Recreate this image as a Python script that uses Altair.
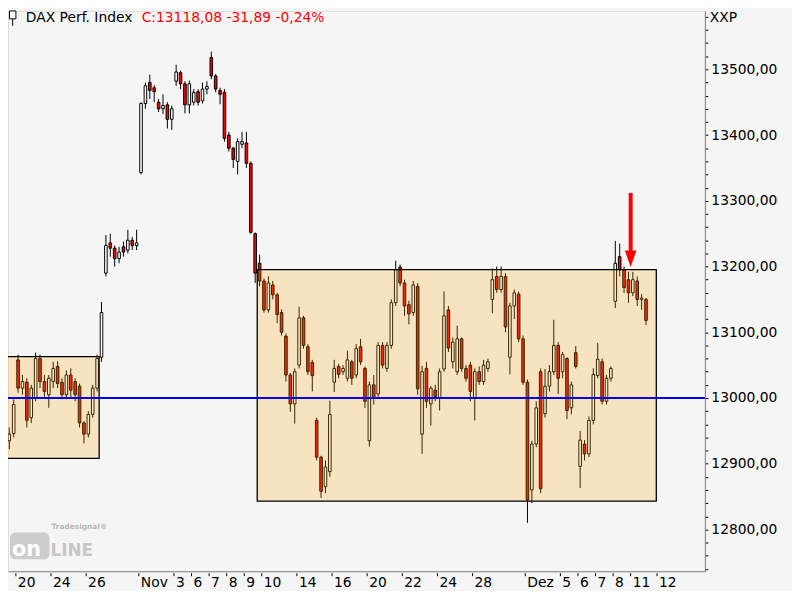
import altair as alt
import pandas as pd

# ---- candle data (one candle per slot, 4 slots per trading day) ----
OPEN = [12935, 12946, 13058, 13015, 13024, 12970, 13000, 13060, 13025, 13005,
        13025, 13048, 13024, 13005, 13035, 13025, 13018, 12962, 12945, 12975,
        13015, 13062, 13190, 13236, 13228, 13212, 13230, 13225, 13240, 13232,
        13343, 13448, 13480, 13472, 13450, 13440, 13446, 13424, 13482, 13495,
        13478, 13446, 13450, 13466, 13452, 13470, 13518, 13490, 13468, 13465,
        13400, 13380, 13360, 13386, 13388, 13357, 13250, 13205, 13178, 13134,
        13172, 13157, 13130, 13094, 13035, 12991, 13050, 13122, 13078, 13054,
        12966, 12910, 12865, 12888, 13024, 13048, 13040, 13030, 13055, 13035,
        13078, 13045, 12935, 13020, 13006, 13080, 13045, 13080, 13145, 13199,
        13175, 13142, 13130, 13170, 12945, 13045, 12991, 13012, 13000, 13044,
        13134, 13055, 13040, 13090, 13045, 13050, 13000, 13040, 13025, 13045,
        13150, 13185, 13165, 13185, 13062, 13140, 13158, 13090, 13024, 12860,
        12930, 13040, 12976, 13018, 13040, 13080, 13040, 13060, 12985, 13069,
        12896, 12930, 12915, 12966, 13034, 13055, 12995, 13030, 13147, 13215,
        13195, 13180, 13160, 13178, 13150, 13150]
HIGH = [12955, 12998, 13066, 13035, 13030, 13020, 13069, 13066, 13035, 13035,
        13055, 13056, 13030, 13042, 13045, 13030, 13022, 12965, 12980, 13020,
        13066, 13146, 13248, 13250, 13232, 13230, 13238, 13256, 13245, 13256,
        13450, 13480, 13492, 13476, 13455, 13462, 13450, 13445, 13507, 13498,
        13482, 13483, 13470, 13470, 13480, 13482, 13527, 13493, 13472, 13470,
        13405, 13382, 13395, 13405, 13405, 13360, 13252, 13218, 13182, 13185,
        13178, 13160, 13135, 13098, 13038, 13045, 13139, 13125, 13082, 13058,
        12970, 12912, 12905, 12996, 13058, 13052, 13050, 13072, 13058, 13082,
        13090, 13048, 13025, 13035, 13085, 13085, 13085, 13150, 13209, 13203,
        13180, 13148, 13178, 13175, 13049, 13055, 13018, 13020, 13045, 13162,
        13140, 13092, 13110, 13092, 13050, 13055, 13045, 13048, 13058, 13060,
        13197, 13200, 13200, 13190, 13145, 13165, 13162, 13095, 13028, 12935,
        12995, 13045, 13044, 13050, 13119, 13085, 13070, 13062, 13025, 13079,
        12950, 12936, 12972, 13045, 13084, 13060, 13035, 13048, 13239, 13235,
        13200, 13192, 13192, 13185, 13158, 13152]
LOW = [12922, 12940, 13008, 13005, 12955, 12962, 12995, 13015, 13000, 12985,
       13015, 13015, 12998, 12998, 13000, 12995, 12955, 12931, 12940, 12970,
       13010, 13055, 13185, 13215, 13200, 13205, 13215, 13220, 13225, 13225,
       13340, 13440, 13455, 13450, 13435, 13432, 13410, 13408, 13475, 13470,
       13433, 13433, 13445, 13445, 13448, 13462, 13485, 13465, 13447, 13390,
       13375, 13350, 13340, 13380, 13350, 13250, 13175, 13170, 13130, 13130,
       13150, 13114, 13095, 13025, 12979, 12961, 13045, 13075, 13035, 13010,
       12905, 12848, 12855, 12880, 13009, 13030, 13035, 13025, 13020, 13030,
       13050, 12985, 12926, 12990, 13000, 13045, 13040, 13075, 13140, 13170,
       13125, 13112, 13125, 13005, 12915, 12985, 12958, 12995, 12981, 13040,
       13070, 13045, 13035, 13040, 13025, 12995, 12966, 13020, 13020, 13040,
       13129, 13160, 13160, 13100, 13036, 13120, 13085, 13020, 12810, 12840,
       12925, 12855, 12970, 13010, 13035, 13006, 13030, 12968, 12975, 13045,
       12863, 12905, 12910, 12960, 13030, 12990, 12990, 13025, 13137, 13185,
       13160, 13145, 13155, 13140, 13134, 13111]
CLOSE = [12945, 12990, 13015, 13025, 12966, 13015, 13060, 13025, 13010, 13030,
         13045, 13022, 13005, 13035, 13012, 13005, 12962, 12945, 12975, 13015,
         13060, 13130, 13232, 13228, 13212, 13222, 13222, 13240, 13232, 13236,
         13448, 13475, 13468, 13466, 13440, 13445, 13424, 13440, 13496, 13478,
         13446, 13478, 13465, 13450, 13470, 13474, 13490, 13470, 13462, 13395,
         13380, 13363, 13390, 13390, 13357, 13252, 13190, 13178, 13134, 13175,
         13157, 13127, 13100, 13035, 12991, 13040, 13122, 13080, 13040, 13034,
         12910, 12858, 12895, 12975, 13045, 13036, 13045, 13058, 13030, 13075,
         13055, 12995, 13020, 13000, 13080, 13050, 13080, 13145, 13195, 13175,
         13140, 13128, 13172, 13014, 13040, 12995, 13015, 13002, 13040, 13125,
         13076, 13085, 13090, 13045, 13030, 13010, 13040, 13025, 13050, 13055,
         13180, 13165, 13185, 13108, 13140, 13160, 13090, 13024, 12845, 12930,
         12985, 12862, 13018, 13040, 13080, 13030, 13066, 12981, 13020, 13048,
         12936, 12915, 12966, 13036, 13059, 12995, 13030, 13045, 13205, 13195,
         13168, 13160, 13180, 13150, 13152, 13118]

# ---- date axis (trading-day index of each labelled tick) ----
XLAB = ["20", "24", "26", "Nov", "3", "6", "7", "8", "9", "10", "14", "16", "20",
        "22", "24", "28", "Dez", "5", "6", "7", "8", "11", "12"]
XDAY = [1, 3, 5, 8, 10, 11, 12, 13, 14, 15, 17, 19, 21, 23, 25, 27, 30, 32, 33,
        34, 35, 36, 37.5]

# ---- annotation boxes (candle-slot / price units) ----
BOX_X1 = [-2.0, 56.46]
BOX_X2 = [20.46, 147.34]
BOX_LO = [12908.1, 12843.0]
BOX_HI = [13062.8, 13195.3]

LEVEL = [13000]
ARROW_X = [141.5]
ARROW_TOP = [13312]
ARROW_END = [13222]
ARROW_HEAD = [13211.8]

YMIN, YMAX = 12736.45, 13588.86
XMIN, XMAX = 0.8333, 157.2778
W, H = 704, 566

candles = pd.DataFrame({"j": list(range(len(OPEN))), "o": OPEN, "h": HIGH,
                        "l": LOW, "c": CLOSE})
ticks = pd.DataFrame({"lab": XLAB, "pos": [4 * d - 2.5 for d in XDAY]})
boxes = pd.DataFrame({"x1": BOX_X1, "x2": BOX_X2, "lo": BOX_LO, "hi": BOX_HI})
level = pd.DataFrame({"v": LEVEL})
arrow = pd.DataFrame({"x": ARROW_X, "top": ARROW_TOP, "end": ARROW_END,
                      "head": ARROW_HEAD})
one = pd.DataFrame({"k": [0]})

FONT = "DejaVu Sans"
xs = alt.Scale(domain=[XMIN, XMAX], nice=False, zero=False)
ys = alt.Scale(domain=[YMIN, YMAX], nice=False, zero=False)
xaxis = alt.Axis(labels=False, ticks=False, grid=False, domain=True,
                 domainColor="#808080", domainWidth=1, title=None)
yaxis = alt.Axis(orient="right", values=list(range(12740, 13600, 20)),
                 labelExpr="datum.value % 100 === 0 ? replace(format(datum.value, '.2f'), '.', ',') : ''",
                 tickSize=3, tickColor="black", tickWidth=1, labelPadding=3,
                 labelFont=FONT, labelFontSize=14, labelColor="black",
                 labelOverlap=False, labelFlush=False, labelBaseline="middle",
                 domain=True, domainColor="#808080", domainWidth=1, grid=False,
                 title=None)


def X(field):
    return alt.X(field, scale=xs, axis=xaxis)


def Y(field):
    return alt.Y(field, scale=ys, axis=yaxis)


wicks = alt.Chart(candles).mark_rule(color="black", strokeWidth=1, clip=True).encode(
    x=X("j:Q"), y=Y("l:Q"), y2="h:Q")

bodies = alt.Chart(candles).mark_bar(size=2.6, stroke="black", strokeWidth=1,
                                     clip=True).encode(
    x=X("j:Q"), y=Y("o:Q"), y2="c:Q",
    fill=alt.condition("datum.c >= datum.o", alt.value("white"), alt.value("#ff0000")))

box = alt.Chart(boxes).mark_rect(fill="#FFA500", fillOpacity=0.22, stroke="black",
                                 strokeWidth=1.3, clip=True).encode(
    x=X("x1:Q"), x2="x2:Q", y=Y("lo:Q"), y2="hi:Q")

hline = alt.Chart(level).mark_rule(color="#0000ff", strokeWidth=2).encode(y=Y("v:Q"))

shaft = alt.Chart(arrow).mark_rule(color="#ff0000", strokeWidth=4).encode(
    x=X("x:Q"), y=Y("top:Q"), y2="end:Q")
head = alt.Chart(arrow).mark_point(shape="M-0.7,-1L0.7,-1L0,1Z", size=279, filled=True,
                                   color="#ff0000", opacity=1).encode(
    x=X("x:Q"), y=Y("head:Q"))

xticks = alt.Chart(ticks).mark_rule(color="black", strokeWidth=1).encode(
    x=X("pos:Q"), y=alt.value(568), y2=alt.value(571))
xlabels = alt.Chart(ticks).mark_text(align="left", baseline="alphabetic", dx=2,
                                     font=FONT, fontSize=14, color="black").encode(
    x=X("pos:Q"), y=alt.value(582), text="lab:N")

title1 = alt.Chart(one).mark_text(align="left", baseline="alphabetic", font=FONT,
                                  fontSize=14, color="black").encode(
    x=alt.value(18), y=alt.value(11), text=alt.value("DAX Perf. Index"))
title2 = alt.Chart(one).mark_text(align="left", baseline="alphabetic", font=FONT,
                                  fontSize=14, color="#ff0000").encode(
    x=alt.value(135), y=alt.value(11), text=alt.value("C:13118,08 -31,89 -0,24%"))
xxp = alt.Chart(one).mark_text(align="left", baseline="alphabetic", font=FONT,
                               fontSize=14, color="black").encode(
    x=alt.value(709), y=alt.value(11), text=alt.value("XXP"))
icon_body = alt.Chart(one).mark_rect(fill="white", stroke="black", strokeWidth=1).encode(
    x=alt.value(1.5), x2=alt.value(8), y=alt.value(0), y2=alt.value(8))
icon_wick = alt.Chart(one).mark_rule(color="black", strokeWidth=1).encode(
    x=alt.value(4.75), y=alt.value(8), y2=alt.value(15))

logo_box = alt.Chart(one).mark_rect(fill="#cccccc", cornerRadius=6).encode(
    x=alt.value(2), x2=alt.value(42), y=alt.value(527), y2=alt.value(554))
logo_on = alt.Chart(one).mark_text(align="left", baseline="alphabetic", font=FONT,
                                   fontSize=21, fontWeight="bold", color="white").encode(
    x=alt.value(4), y=alt.value(551), text=alt.value("on"))
logo_line = alt.Chart(one).mark_text(align="left", baseline="alphabetic", font=FONT,
                                     fontSize=17, fontWeight="bold", color="#c6c6c6").encode(
    x=alt.value(43), y=alt.value(551), text=alt.value("LINE"))
logo_ts = alt.Chart(one).mark_text(align="left", baseline="alphabetic", font=FONT,
                                   fontSize=7.5, fontWeight="bold", color="#b8b8b8").encode(
    x=alt.value(44), y=alt.value(523), text=alt.value("Tradesignal®"))

chart = alt.layer(
    logo_box, logo_on, logo_line, logo_ts,
    wicks, bodies, box, hline, shaft, head, xticks, xlabels,
    title1, title2, xxp, icon_body, icon_wick
).properties(
    width=W, height=H,
    autosize=alt.AutoSizeParams(type="none"),
    padding={"left": 0, "top": 0, "right": 88, "bottom": 17},
    background="#f5f5f5",
).configure_view(stroke="transparent", fill="white").configure(font=FONT)

chart.save("out.html", embed_options={"renderer": "svg", "actions": False})
